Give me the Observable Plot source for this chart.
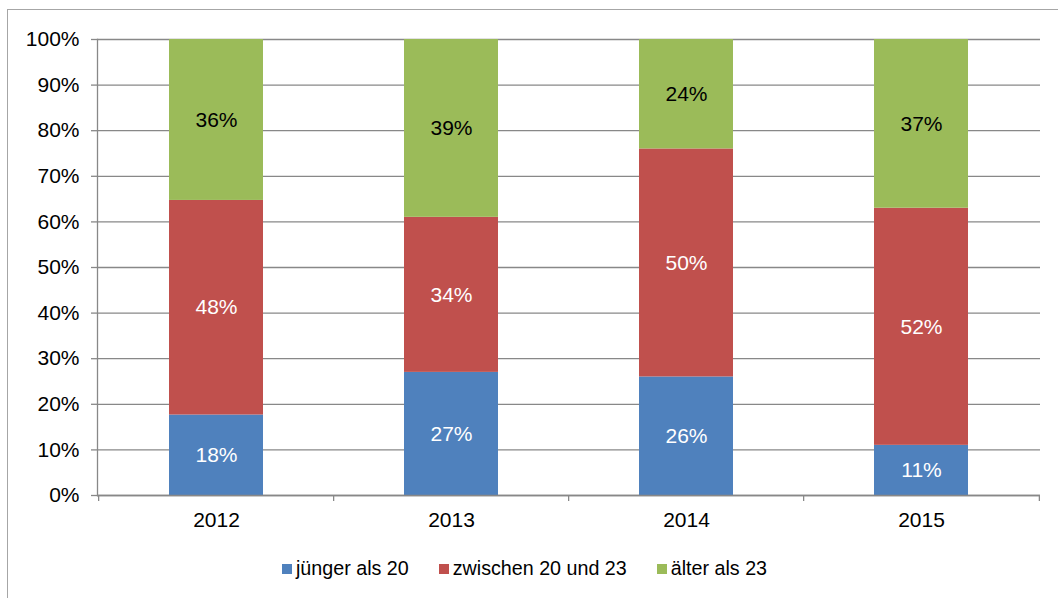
<!DOCTYPE html>
<html>
<head>
<meta charset="utf-8">
<script src="https://cdn.jsdelivr.net/npm/d3@7"></script>
<script src="https://cdn.jsdelivr.net/npm/@observablehq/plot@0.6"></script>
<style>
  html, body { margin: 0; padding: 0; background: #fff; overflow: hidden; }
  body { width: 1058px; height: 598px; position: relative; font-family: "Liberation Sans", Arial, sans-serif; }
  #frame { position: absolute; left: 7px; top: 9px; width: 1100px; height: 700px; border: 1.5px solid #a6a6a6; box-sizing: border-box; pointer-events: none; }
  #chart { position: absolute; left: 0; top: 0; }
  #legend { position: absolute; left: 282px; top: 558px; display: flex; align-items: center; font-size: 19.7px; line-height: 20px; color: #000; white-space: nowrap; }
  .item { display: flex; align-items: center; margin-right: 30px; }
  .sw { width: 10px; height: 10px; margin-right: 4px; margin-top: 1px; }
</style>
</head>
<body>
<div id="chart"></div>
<div id="frame"></div>
<div id="legend"></div>
<script>
const years = ["2012", "2013", "2014", "2015"];
const categories = ["jünger als 20", "zwischen 20 und 23", "älter als 23"];
const colors = ["#4F81BD", "#C0504D", "#9BBB59"];
const youngValues = [18, 27, 26, 11];
const middleValues = [48, 34, 50, 52];
const olderValues = [36, 39, 24, 37];
const yTickValues = [0, 0.1, 0.2, 0.3, 0.4, 0.5, 0.6, 0.7, 0.8, 0.9, 1];
const yTickLabels = ["0%", "10%", "20%", "30%", "40%", "50%", "60%", "70%", "80%", "90%", "100%"];

const series = [youngValues, middleValues, olderValues];
const data = [];
years.forEach((year, i) => {
  categories.forEach((cat, j) => {
    data.push({year, cat, value: series[j][i]});
  });
});

const step = (1040 - 97) / years.length;
const gridColor = "#888888";
const fs = 21;

const stackOpts = (extra) => Plot.stackY({
  offset: "normalize", x: "year", y: "value", z: "cat", order: categories, ...extra
});

const chart = Plot.plot({
  width: 1058,
  height: 530,
  marginTop: 39,
  marginBottom: 35,
  marginLeft: 97,
  marginRight: 18,
  style: {fontFamily: "'Liberation Sans', Arial, sans-serif", fontSize: fs + "px", color: "#000", background: "transparent"},
  x: {domain: years, paddingInner: 0.6, paddingOuter: 0.3, axis: null},
  y: {domain: [0, 1], axis: null},
  color: {domain: categories, range: colors},
  marks: [
    Plot.gridY(yTickValues, {stroke: gridColor, strokeOpacity: 1, strokeWidth: 1.3}),
    Plot.axisY(yTickValues, {label: null, tickSize: 6, tickPadding: 12, tickFormat: (d, i) => yTickLabels[i], stroke: gridColor, strokeWidth: 1.3, fill: "#000", fontSize: fs}),
    Plot.frame({anchor: "left", stroke: gridColor, strokeWidth: 1.3}),
    Plot.axisX(years, {label: null, tickSize: 6, tickFormat: () => "", dx: -step / 2, stroke: gridColor, strokeWidth: 1.3}),
    Plot.axisX([years[years.length - 1]], {label: null, tickSize: 6, tickFormat: () => "", dx: step / 2, stroke: gridColor, strokeWidth: 1.3}),
    Plot.axisX(years, {label: null, tickSize: 0, tickPadding: 17, fill: "#000", fontSize: fs}),
    Plot.barY(data, stackOpts({fill: "cat"})),
    Plot.ruleY([0], {stroke: gridColor, strokeWidth: 1.3}),
    Plot.text(data, Plot.filter(d => d.cat !== categories[2], stackOpts({text: d => d.value + "%", fill: "#fff", fontSize: fs}))),
    Plot.text(data, Plot.filter(d => d.cat === categories[2], stackOpts({text: d => d.value + "%", fill: "#000", fontSize: fs})))
  ]
});
document.getElementById("chart").appendChild(chart);

const legend = document.getElementById("legend");
categories.forEach((cat, i) => {
  const item = document.createElement("div");
  item.className = "item";
  const sw = document.createElement("span");
  sw.className = "sw";
  sw.style.background = colors[i];
  const label = document.createElement("span");
  label.textContent = cat;
  item.appendChild(sw);
  item.appendChild(label);
  legend.appendChild(item);
});
</script>
</body>
</html>
